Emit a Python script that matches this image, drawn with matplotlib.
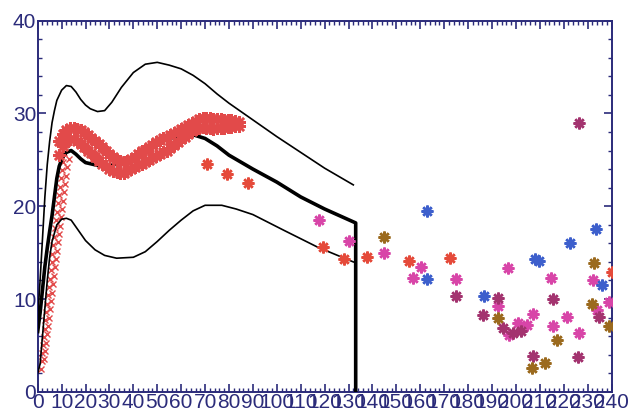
import matplotlib
matplotlib.use("Agg")
import matplotlib.pyplot as plt
from matplotlib.ticker import MultipleLocator

# --- mean curve and its envelope ---
mean_x = [0, 1, 2, 3, 4, 5, 6, 7, 8, 9, 10, 11, 12, 14, 16, 18, 20, 25, 30, 35, 40, 45,
          50, 55, 60, 65, 70, 75, 80, 90, 100, 110, 120, 133, 133]
mean_y = [6.5, 8.5, 11, 13.5, 15.5, 17.3, 19, 21, 23, 24.3, 25, 25.5, 25.8, 26, 25.6, 25.1,
          24.7, 24.4, 24.4, 24.6, 25.4, 26.2, 26.8, 27.3, 27.6, 27.7, 27.3, 26.5, 25.5,
          24.0, 22.6, 21.0, 19.7, 18.2, 0]

upper_x = [0, 1, 2, 3, 4, 5, 6, 7, 8, 10, 12, 14, 16, 18, 20, 22, 25, 28, 31, 35, 40, 45,
           50, 55, 60, 65, 70, 75, 80, 90, 100, 110, 120, 132]
upper_y = [8, 12, 16.5, 21, 24.5, 27, 29, 30.3, 31.4, 32.5, 33, 32.9, 32.3, 31.5, 30.9,
           30.5, 30.2, 30.3, 31.2, 32.8, 34.4, 35.3, 35.5, 35.2, 34.8, 34.1, 33.2, 32.1,
           31.1, 29.3, 27.5, 25.8, 24.1, 22.3]

lower_x = [0, 1, 2, 3, 4, 5, 6, 8, 10, 12, 14, 17, 20, 24, 28, 33, 40, 45, 50, 55, 60, 65,
           70, 77, 83, 90, 103, 117, 132]
lower_y = [2, 3, 6, 9, 12, 14.5, 16.2, 18, 18.6, 18.7, 18.5, 17.4, 16.3, 15.3, 14.7, 14.4,
           14.5, 15.1, 16.2, 17.4, 18.5, 19.5, 20.1, 20.1, 19.7, 19.1, 17.4, 15.6, 14.0]

# --- early red "x" points ---
early_x = [1.2, 1.6, 2.0, 2.3, 2.6, 2.9, 3.2, 3.6, 4.0, 4.4, 4.8, 5.1, 5.5, 5.8, 6.1, 6.5,
           6.8, 7.2, 7.6, 8.0, 8.4, 8.8, 9.2, 9.6, 10.0, 10.5, 11.0, 11.6, 12.3,
           2.8, 3.2, 3.6, 4.0, 4.4, 4.8, 5.2, 5.6, 6.0, 6.4, 6.8, 7.2, 7.6, 8.0, 8.4, 8.8,
           9.2, 9.6, 10.0, 10.4, 10.8, 11.3, 11.8, 12.4, 13.0]
early_y = [2.5, 3.3, 4.2, 5.0, 5.9, 6.8, 7.7, 8.6, 9.5, 10.4, 11.3, 12.2, 13.1, 14.0, 14.9,
           15.8, 16.7, 17.6, 18.5, 19.4, 20.3, 21.2, 22.1, 23.0, 23.9, 24.8, 25.7, 26.6, 27.4,
           3.5, 4.4, 5.3, 6.2, 7.1, 8.0, 8.9, 9.8, 10.7, 11.6, 12.5, 13.4, 14.3, 15.2, 16.1,
           17.0, 17.9, 18.8, 19.7, 20.6, 21.5, 22.4, 23.3, 24.2, 25.1]

# --- dense red band (upper and lower edge) ---
band_x = [9, 10.5, 12, 13.5, 15, 16.5, 18, 19.5, 21, 22.5, 24, 25.5, 27, 28.5, 30, 31.5, 33,
          34.5, 36, 37.5, 39, 40.5, 42, 43.5, 45, 46.5, 48, 49.5, 51, 52.5, 54, 55.5, 57,
          58.5, 60, 61.5, 63, 64.5, 66, 67.5, 69, 70.5, 72, 73.5, 75, 76.5, 78, 79.5, 81,
          82.5, 84]
band_hi = [27.0, 27.8, 28.2, 28.4, 28.4, 28.3, 28.2, 28.0, 27.7, 27.4, 27.0, 26.7, 26.4,
           26.0, 25.6, 25.3, 25.0, 24.9, 24.8, 24.9, 25.1, 25.3, 25.6, 25.9, 26.1, 26.4,
           26.6, 26.9, 27.1, 27.3, 27.5, 27.7, 27.9, 28.1, 28.3, 28.5, 28.8, 29.0, 29.2,
           29.4, 29.5, 29.5, 29.5, 29.4, 29.4, 29.4, 29.3, 29.3, 29.3, 29.2, 29.1]
band_lo = [25.5, 26.5, 27.0, 27.2, 27.2, 27.0, 26.7, 26.4, 26.0, 25.7, 25.3, 24.9, 24.6,
           24.3, 24.0, 23.8, 23.7, 23.6, 23.6, 23.8, 24.0, 24.2, 24.4, 24.6, 24.8, 25.0,
           25.2, 25.4, 25.6, 25.8, 26.0, 26.3, 26.6, 26.9, 27.2, 27.5, 27.8, 28.1, 28.3,
           28.4, 28.5, 28.4, 28.4, 28.3, 28.4, 28.4, 28.4, 28.5, 28.5, 28.6, 28.6]

# --- scattered asterisks ---
red_x = [70.7, 79, 88, 119.4, 128.1, 137.7, 155.3, 172.4, 240]
red_y = [24.6, 23.5, 22.5, 15.6, 14.3, 14.5, 14.1, 14.4, 12.9]

pink_x = [117.7, 130.2, 144.8, 157, 160.3, 175.1, 196.6, 192.4, 197, 200.8, 204.5, 207,
          214.5, 215.6, 221.2, 226.6, 232.1, 234, 239]
pink_y = [18.5, 16.3, 15.0, 12.3, 13.4, 12.2, 13.3, 9.2, 6.1, 7.4, 7.2, 8.4, 12.3, 7.1,
          8.1, 6.3, 12.1, 8.8, 9.7]

plum_x = [175.1, 186.1, 192.4, 194.5, 199, 202, 207, 215.6, 225.8, 226.2, 234.6]
plum_y = [10.3, 8.3, 10.1, 6.9, 6.3, 6.6, 3.9, 10.0, 3.8, 29.0, 8.1]

blue_x = [162.8, 162.8, 186.6, 208, 209.5, 222.5, 233.7, 236]
blue_y = [19.5, 12.2, 10.3, 14.3, 14.1, 16.0, 17.5, 11.5]

brown_x = [144.8, 192.4, 206.6, 212.2, 217, 232.7, 231.8, 238.9]
brown_y = [16.7, 8.0, 2.6, 3.1, 5.6, 13.9, 9.5, 7.1]

navy = "#2b2b7a"
plt.rcParams['font.family'] = ['Liberation Sans', 'DejaVu Sans']

fig = plt.figure(figsize=(6.39, 4.20), dpi=100)
ax = fig.add_axes([0.059, 0.067, 0.898, 0.884])

star = (8, 2, 0)


def stars(xs, ys, color, ms=8.5):
    ax.plot(xs, ys, linestyle='none', marker=star, ms=ms, mew=1.8, color=color, zorder=4)
    ax.plot(xs, ys, linestyle='none', marker='o', ms=3.5, mew=0, color=color, zorder=4)


ax.plot(early_x, early_y, linestyle='none', marker='x', ms=5, mew=1.0, color='#e24a4a', zorder=2)
stars(band_x, band_hi, '#e24a4a', ms=9)
stars(band_x, band_lo, '#e24a4a', ms=9)

ax.plot(upper_x, upper_y, color='black', lw=1.2, zorder=3)
ax.plot(lower_x, lower_y, color='black', lw=1.2, zorder=3)
ax.plot(mean_x, mean_y, color='black', lw=2.6, zorder=3)

stars(red_x, red_y, '#e54a3a')
stars(pink_x, pink_y, '#d845a8')
stars(plum_x, plum_y, '#a3336f')
stars(blue_x, blue_y, '#3d5fcc')
stars(brown_x, brown_y, '#9b6a1e')

ax.set_xlim(0, 240)
ax.set_ylim(0, 40)
ax.xaxis.set_major_locator(MultipleLocator(10))
ax.xaxis.set_minor_locator(MultipleLocator(2))
ax.yaxis.set_major_locator(MultipleLocator(10))
ax.yaxis.set_minor_locator(MultipleLocator(2))
ax.tick_params(which='both', direction='in', top=True, right=True, color=navy,
               labelcolor=navy, labelsize=15, pad=1)
ax.tick_params(which='major', length=6, width=1.2)
ax.tick_params(which='minor', length=3, width=1.0)
for s in ax.spines.values():
    s.set_color(navy)
    s.set_linewidth(1.4)

fig.savefig("out.png", dpi=100)
